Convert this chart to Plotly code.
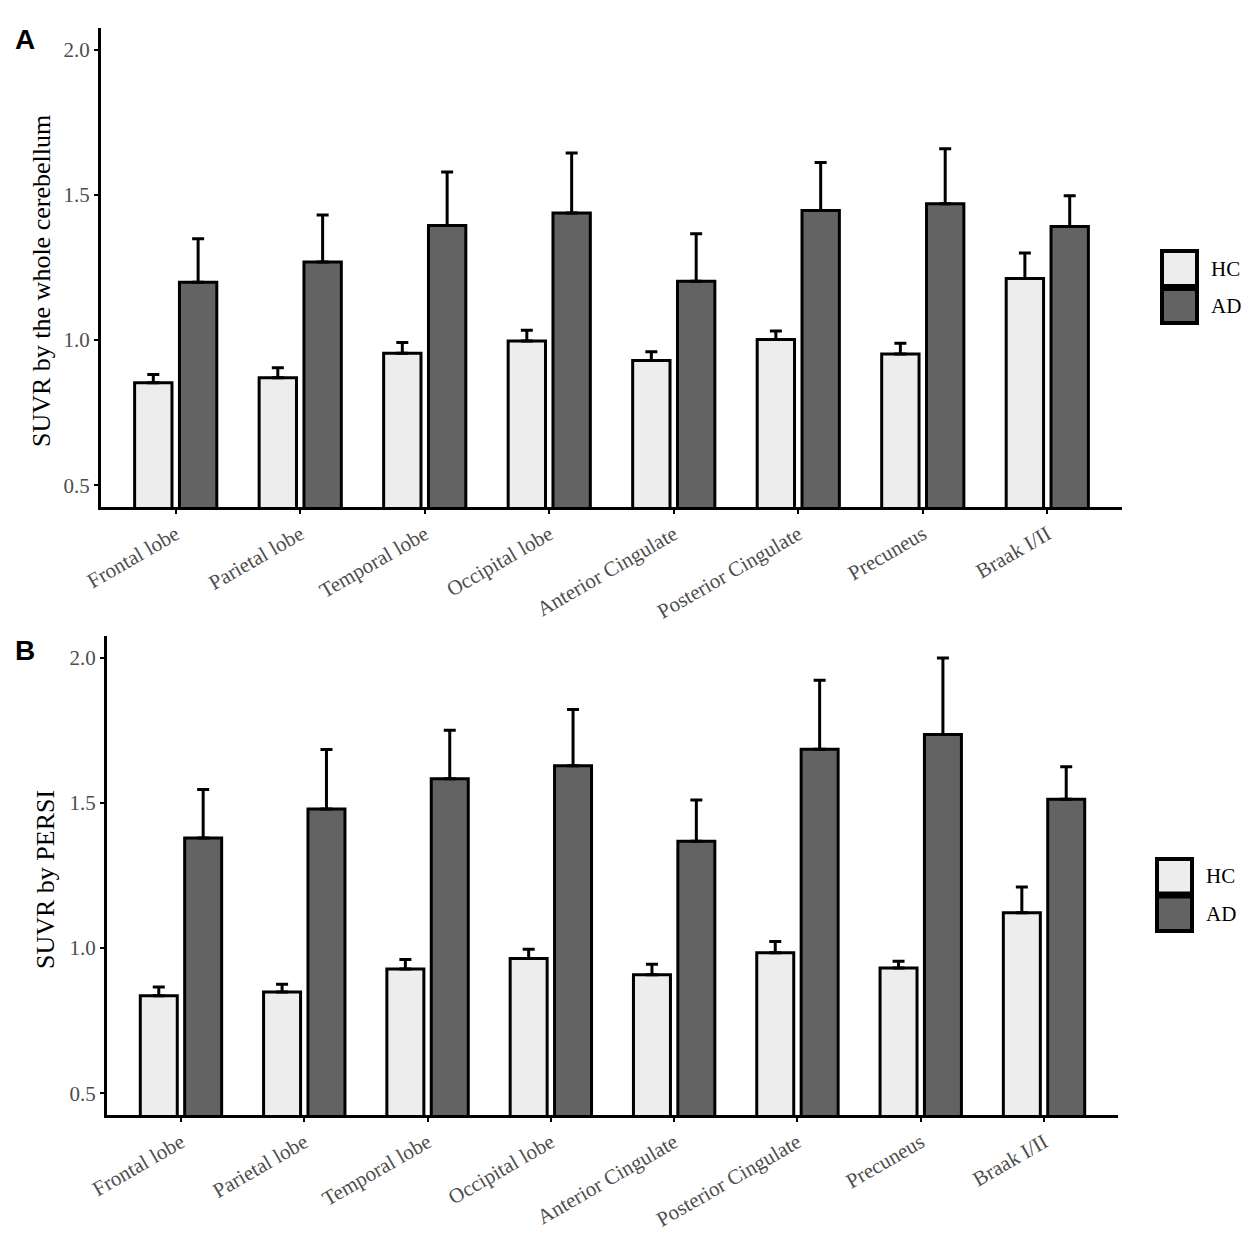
import plotly.graph_objects as go

# the page body has an 8px margin, so the figure is a bit smaller than the window
PAD = 8
W, H = 1250 - 2 * PAD, 1239 - 2 * PAD

regions = ["Frontal lobe", "Parietal lobe", "Temporal lobe", "Occipital lobe",
           "Anterior Cingulate", "Posterior Cingulate", "Precuneus", "Braak I/II"]

# A: SUVR by the whole cerebellum (mean, upper error)
hc_cereb = [0.853, 0.870, 0.955, 0.997, 0.930, 1.002, 0.952, 1.212]
hc_cereb_err = [0.028, 0.035, 0.037, 0.037, 0.030, 0.029, 0.037, 0.088]
ad_cereb = [1.199, 1.269, 1.395, 1.438, 1.203, 1.446, 1.470, 1.391]
ad_cereb_err = [0.150, 0.162, 0.184, 0.206, 0.163, 0.166, 0.189, 0.106]

# B: SUVR by PERSI
hc_persi = [0.836, 0.849, 0.928, 0.964, 0.908, 0.984, 0.931, 1.122]
hc_persi_err = [0.030, 0.026, 0.033, 0.032, 0.036, 0.039, 0.024, 0.088]
ad_persi = [1.379, 1.479, 1.583, 1.628, 1.368, 1.685, 1.736, 1.513]
ad_persi_err = [0.167, 0.205, 0.167, 0.194, 0.142, 0.238, 0.263, 0.112]

y_ticks = [0.5, 1.0, 1.5, 2.0]

HC_FILL = "#EDEDED"
AD_FILL = "#636363"
SERIF = "Liberation Serif"
TICK_GREY = "#4D4D4D"


def px(x, y):
    # window pixel position -> paper coords
    return (x - PAD) / W, 1 - (y - PAD) / H


def add_panel(fig, hc, hc_err, ad, ad_err, xa, ya):
    groups = [("HC", hc, hc_err, HC_FILL, -0.33), ("AD", ad, ad_err, AD_FILL, 0.03)]
    for name, vals, errs, fill, off in groups:
        fig.add_trace(go.Bar(
            x=regions, y=vals, name=name, xaxis=xa, yaxis=ya,
            width=0.3, offset=off, showlegend=False,
            marker=dict(color=fill, line=dict(color="black", width=3)),
            error_y=dict(type="data", array=errs, symmetric=False,
                         arrayminus=[0] * len(errs), color="black",
                         thickness=3, width=6),
        ))


def x_axis(left, right, anchor):
    return dict(domain=[px(left, 0)[0], px(right, 0)[0]], anchor=anchor,
                type="category", range=[-0.6, 7.6],
                showline=True, linewidth=3, linecolor="black", showgrid=False,
                zeroline=False, ticks="outside", ticklen=4, tickwidth=2,
                tickcolor="black", tickangle=-30, automargin=False,
                tickfont=dict(family=SERIF, size=21, color=TICK_GREY))


def y_axis(top, bottom, anchor):
    return dict(domain=[px(0, bottom)[1], px(0, top)[1]], anchor=anchor,
                range=[0.425, 2.075], tickvals=y_ticks, tickformat=".1f",
                showline=True, linewidth=3, linecolor="black", showgrid=False,
                zeroline=False, ticks="outside", ticklen=4, tickwidth=2,
                tickcolor="black", automargin=False,
                tickfont=dict(family=SERIF, size=21, color=TICK_GREY))


def y_title(text, x, y):
    tx, ty = px(x, y)
    return dict(text=text, x=tx, y=ty, xref="paper", yref="paper",
                textangle=-90, showarrow=False, xanchor="center", yanchor="middle",
                font=dict(family=SERIF, size=26, color="black"))


def legend_box(x0, x1, y_top, y_mid, y_bot, text_x):
    shapes, notes = [], []
    for (ya, yb), fill, label in [((y_top, y_mid - 1.5), HC_FILL, "HC"),
                                  ((y_mid + 1.5, y_bot), AD_FILL, "AD")]:
        p0 = px(x0, yb)
        p1 = px(x1, ya)
        shapes.append(dict(type="rect", xref="paper", yref="paper",
                           x0=p0[0], y0=p0[1], x1=p1[0], y1=p1[1],
                           fillcolor=fill, line=dict(color="black", width=4)))
        tx, ty = px(text_x, (ya + yb) / 2)
        notes.append(dict(text=label, x=tx, y=ty, xref="paper", yref="paper",
                          xanchor="left", yanchor="middle", showarrow=False,
                          font=dict(family=SERIF, size=21, color="black")))
    return shapes, notes


fig = go.Figure()
add_panel(fig, hc_cereb, hc_cereb_err, ad_cereb, ad_cereb_err, "x", "y")
add_panel(fig, hc_persi, hc_persi_err, ad_persi, ad_persi_err, "x2", "y2")

shapes_a, notes_a = legend_box(1162, 1197, 251, 287.5, 323, 1209)
shapes_b, notes_b = legend_box(1157, 1192, 859, 895, 931, 1204)

panel_tags = []
for label, y in [("A", 40), ("B", 650)]:
    tx, ty = px(25, y)
    panel_tags.append(dict(text="<b>%s</b>" % label, x=tx, y=ty,
                           xref="paper", yref="paper", showarrow=False,
                           xanchor="center", yanchor="middle",
                           font=dict(family="Liberation Sans", size=28, color="black")))

titles = [y_title("SUVR by the whole cerebellum", 41, 281),
          y_title("SUVR by PERSI", 45, 880)]

fig.update_layout(
    width=W, height=H,
    margin=dict(l=0, r=0, t=0, b=0),
    paper_bgcolor="white", plot_bgcolor="white",
    barmode="overlay", showlegend=False,
    xaxis=x_axis(101, 1122, "y"),
    yaxis=y_axis(28, 507, "x"),
    xaxis2=x_axis(107, 1118, "y2"),
    yaxis2=y_axis(636, 1115, "x2"),
    shapes=shapes_a + shapes_b,
    annotations=notes_a + notes_b + panel_tags + titles,
)

fig.write_html("out.html")
